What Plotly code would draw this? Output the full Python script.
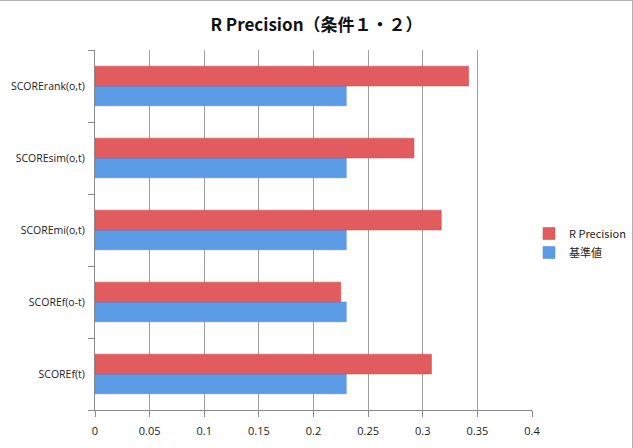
import plotly.graph_objects as go

categories = ["SCOREf(t)", "SCOREf(o-t)", "SCOREmi(o,t)", "SCOREsim(o,t)", "SCORErank(o,t)"]
r_precision = [0.308, 0.225, 0.317, 0.292, 0.342]
baseline = [0.23, 0.23, 0.23, 0.23, 0.23]
x_ticks = [0, 0.05, 0.1, 0.15, 0.2, 0.25, 0.3, 0.35, 0.4]

W, H = 633, 448
L, R, T, B = 95, 101, 50, 38
pw, ph = W - L - R, H - T - B

fig = go.Figure()
fig.add_trace(go.Bar(y=categories, x=baseline, name="基準値", orientation="h",
                     marker=dict(color="#5C9CE6", line=dict(color="#4A86D0", width=0.5))))
fig.add_trace(go.Bar(y=categories, x=r_precision, name="R Precision", orientation="h",
                     marker=dict(color="#E25B5E", line=dict(color="#CC4A4D", width=0.5))))

font_family = "Open Sans, Noto Sans CJK JP, sans-serif"
fig.update_layout(
    width=W, height=H,
    margin=dict(l=L, r=R, t=T, b=B, autoexpand=False),
    paper_bgcolor="white", plot_bgcolor="white",
    barmode="group", bargap=0.45, bargroupgap=0,
    font=dict(family=font_family, size=10, color="#222"),
    title=dict(text="<b>R Precision（条件１・２）</b>", x=0.5, xanchor="center",
               y=1 - 25 / H, yanchor="middle",
               font=dict(family="Noto Sans CJK JP, Open Sans, sans-serif", size=17, color="#111")),
    legend=dict(x=(529 - L) / pw, y=(410 - 243) / ph, xanchor="left", yanchor="middle",
                traceorder="reversed", font=dict(size=11, family="Noto Sans CJK JP, Open Sans, sans-serif"),
                bgcolor="rgba(0,0,0,0)", itemwidth=30, tracegroupgap=0),
    xaxis=dict(range=[0, 0.4], tickvals=x_ticks, ticktext=[str(v) for v in x_ticks],
               showgrid=True, gridcolor="#a0a0a0", gridwidth=1,
               ticks="outside", ticklen=6, tickcolor="#8a8a8a",
               showline=True, linecolor="#8a8a8a", linewidth=1, zeroline=False,
               tickfont=dict(size=11), automargin=False, ticklabelstandoff=5),
    yaxis=dict(categoryorder="array", categoryarray=categories,
               showline=True, linecolor="#8a8a8a", linewidth=1,
               ticks="outside", ticklen=6, tickcolor="#8a8a8a", tickson="boundaries",
               showgrid=False, tickfont=dict(size=10.5), automargin=False, ticklabelstandoff=7),
)

fig.add_shape(type="line", xref="paper", yref="paper",
              x0=-L / pw, x1=(W - L) / pw, y0=1 + (T - 0.5) / ph, y1=1 + (T - 0.5) / ph,
              line=dict(color="#b0b0b0", width=1))
fig.add_shape(type="line", xref="paper", yref="paper",
              x0=(W - 0.5 - L) / pw, x1=(W - 0.5 - L) / pw, y0=-B / ph, y1=1 + T / ph,
              line=dict(color="#b0b0b0", width=1))

fig.write_html("out.html")
